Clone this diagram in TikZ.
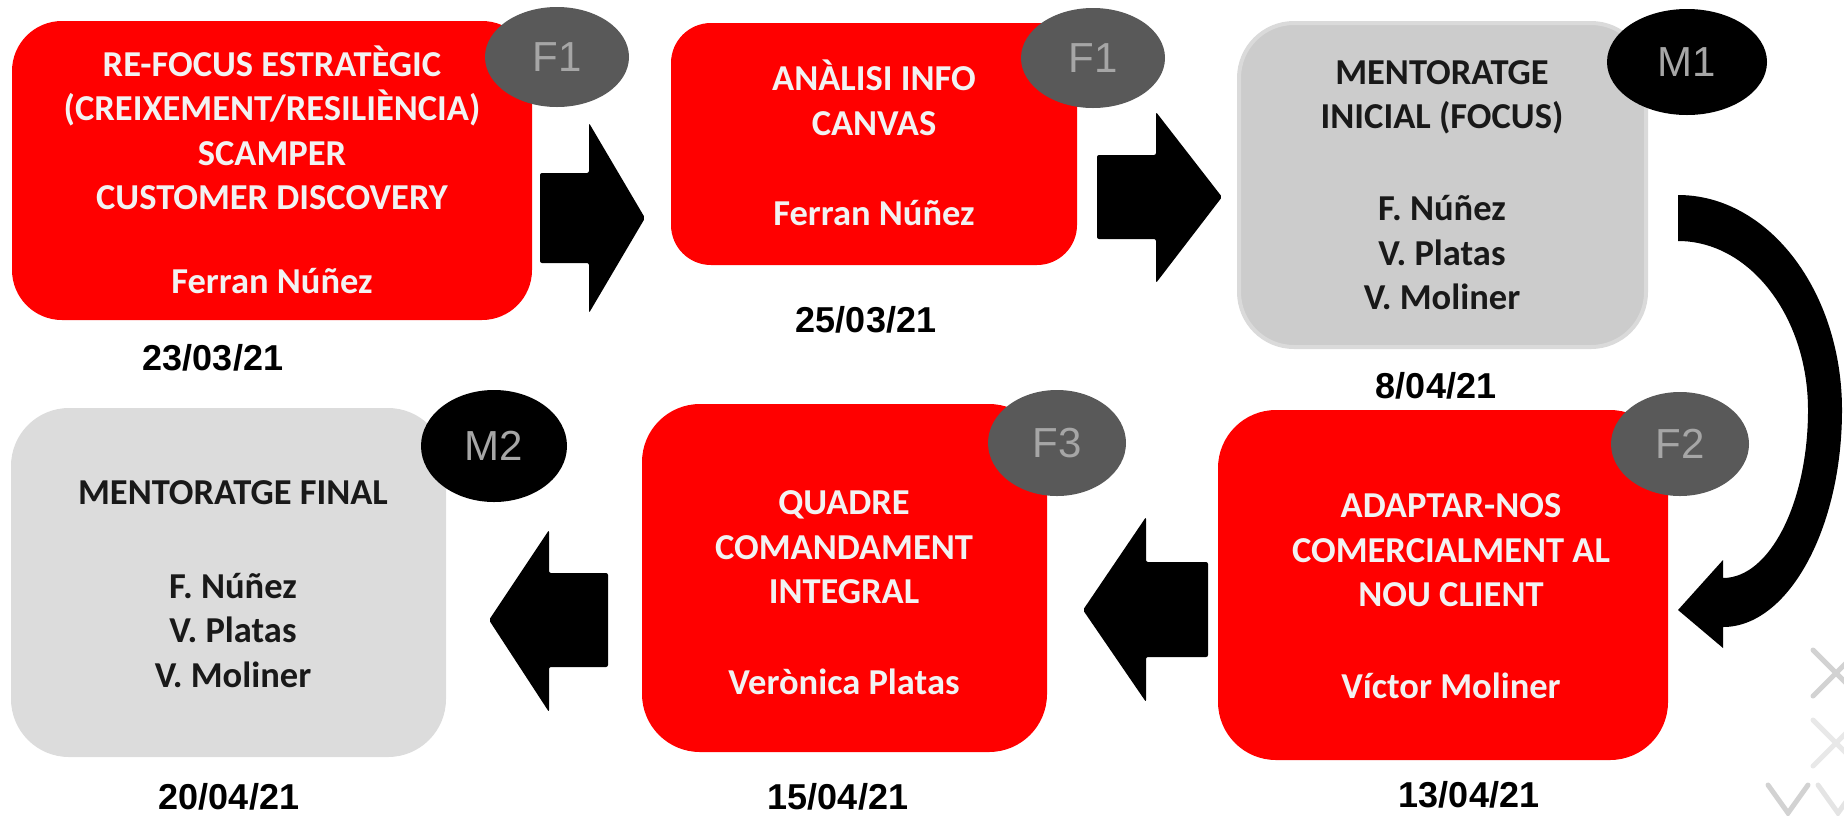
\documentclass[tikz,border=0pt]{standalone}
\usepackage{fontspec}
\setmainfont{Carlito}
\newfontfamily\arialfont{Liberation Sans}
\usetikzlibrary{positioning,shapes.geometric}

\definecolor{stepred}{HTML}{FF0000}
\definecolor{badgegray}{HTML}{595959}
\definecolor{badgetext}{HTML}{A6A6A6}
\definecolor{mentorfill}{HTML}{CCCCCC}
\definecolor{mentorline}{HTML}{DADADA}
\definecolor{finalfill}{HTML}{DCDCDC}
\definecolor{decomark}{HTML}{D2D2D2}

\tikzset{
  stepbox/.style={rectangle, inner sep=0pt},
  redbox/.style={stepbox, fill=stepred},
  graybox/.style={stepbox, fill=mentorfill, draw=mentorline, line width=4pt},
  lightbox/.style={stepbox, fill=finalfill},
  boxtext/.style={align=center, inner sep=0pt, font=\fontsize{36.5}{44.5}\selectfont\bfseries},
  whitetext/.style={boxtext, text=white!95!black},
  darktext/.style={boxtext, text=black!90},
  badge/.style={ellipse, inner sep=0pt, text=badgetext, font=\arialfont\fontsize{42}{42}\selectfont},
  fbadge/.style={badge, fill=badgegray},
  mbadge/.style={badge, fill=black},
  datelabel/.style={inner sep=0pt, font=\arialfont\bfseries\fontsize{36}{36}\selectfont},
  blockarrow/.style={fill=black, rounded corners=2pt},
  deco/.style={draw=decomark, line width=5pt, line cap=round}
}

\begin{document}
\begin{tikzpicture}[x=1pt,y=-1pt]
\useasboundingbox (0,0) rectangle (1844,815);

% faint marks in the corner
\draw[deco] (1813,650) -- (1859,696) (1813,696) -- (1859,650);
\draw[deco, draw=decomark!50] (1813,720) -- (1859,766) (1813,766) -- (1859,720);
\draw[deco] (1768,785) -- (1788,813) -- (1808,785);
\draw[deco, draw=decomark!60] (1818,785) -- (1838,813) -- (1858,785);

% boxes
\node[redbox, minimum width=520pt, minimum height=299pt, rounded corners=50pt] (s_1) at (272,170.5) {};
\node[redbox, minimum width=406pt, minimum height=242pt, rounded corners=40pt] (s_2) at (874,144) {};
\node[graybox, minimum width=407pt, minimum height=324pt, rounded corners=55pt] (s_3) at (1442.5,185) {};
\node[redbox, minimum width=450pt, minimum height=350pt, rounded corners=58pt] (s_4) at (1443,585) {};
\node[redbox, minimum width=405pt, minimum height=348pt, rounded corners=58pt] (s_5) at (844.5,578) {};
\node[lightbox, minimum width=435pt, minimum height=349pt, rounded corners=58pt] (s_6) at (228.5,582.5) {};

% texts
\node[whitetext] (t_1) at (272,169.75) {RE-FOCUS ESTRATÈGIC\\(CREIXEMENT/RESILIÈNCIA)\\SCAMPER\\CUSTOMER DISCOVERY\\[39.5pt]Ferran Núñez};
\node[whitetext] (t_2) at (874,142.75) {ANÀLISI INFO\\CANVAS\\[45.5pt]Ferran Núñez};
\node[darktext] (t_3) at (1442,185) {MENTORATGE\\INICIAL (FOCUS)\\[47.5pt]F. Núñez\\V. Platas\\V. Moliner};
\node[whitetext] (t_4) at (1451,596.5) {ADAPTAR-NOS\\COMERCIALMENT AL\\NOU CLIENT\\[47.5pt]Víctor Moliner};
\node[whitetext] (t_5) at (844,593) {QUADRE\\COMANDAMENT\\INTEGRAL\\[46.5pt]Verònica Platas};
\node[darktext] (t_6) at (233,584) {MENTORATGE FINAL\\[49.5pt]F. Núñez\\V. Platas\\V. Moliner};

% badges
\node[fbadge, minimum width=144pt, minimum height=100pt] (f_1) at (557,57) {F1};
\node[fbadge, minimum width=144pt, minimum height=100pt] (f_2) at (1093,58) {F1};
\node[mbadge, minimum width=160pt, minimum height=106pt] (m_1) at (1687,62) {M1};
\node[fbadge, minimum width=138pt, minimum height=104pt] (f_3) at (1680,444) {F2};
\node[fbadge, minimum width=138pt, minimum height=106pt] (f_4) at (1057,443) {F3};
\node[mbadge, minimum width=146pt, minimum height=112pt] (m_2) at (494,446) {M2};

% dates
\node[datelabel] (d_1) at (213,358) {23/03/21};
\node[datelabel] (d_2) at (866,320) {25/03/21};
\node[datelabel] (d_3) at (1436,386) {8/04/21};
\node[datelabel] (d_4) at (1469,795) {13/04/21};
\node[datelabel] (d_5) at (838,797) {15/04/21};
\node[datelabel] (d_6) at (229,797) {20/04/21};

% arrows
\fill[blockarrow] (540,173) -- (589,173) -- (589,123) -- (645,218) -- (589,313) -- (589,263) -- (540,263) -- cycle;
\fill[blockarrow] (1097,155) -- (1156,155) -- (1156,112) -- (1222,197) -- (1156,283) -- (1156,239) -- (1097,239) -- cycle;
\fill[blockarrow] (1208,562) -- (1146,562) -- (1146,517) -- (1083,610) -- (1146,702) -- (1146,657) -- (1208,657) -- cycle;
\fill[blockarrow] (608,573) -- (549,573) -- (549,530) -- (489,620) -- (549,712) -- (549,667) -- (608,667) -- cycle;
\fill (1678,195) .. controls (1769,195) and (1842,292) .. (1842,410)
  .. controls (1842,529) and (1788,627) .. (1723,627)
  -- (1723,648) -- (1678,610) -- (1723,560) -- (1723,578)
  .. controls (1770,578) and (1808,502) .. (1808,410)
  .. controls (1808,317) and (1750,241) .. (1678,241) -- cycle;
\end{tikzpicture}
\end{document}
